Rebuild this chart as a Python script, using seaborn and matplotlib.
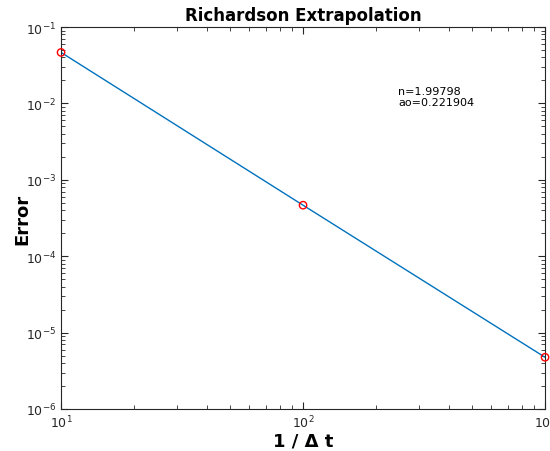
import matplotlib
matplotlib.use("Agg")
import matplotlib.pyplot as plt
import seaborn as sns
import pandas as pd
import numpy as np

inv_dt = [10, 100, 1000]
error = [0.0465, 4.65e-4, 4.75e-6]
fit_text = ["n=1.99798", "ao=0.221904"]

sns.set_style("ticks")
plt.rcParams['font.family'] = ['DejaVu Sans']

df = pd.DataFrame({"x": inv_dt, "y": error})

fig = plt.figure(figsize=(5.5, 4.52), dpi=100)
ax = fig.add_axes([0.111, 0.093, 0.880, 0.845])

sns.lineplot(data=df, x="x", y="y", ax=ax, color="#0072BD", linewidth=1.0)
sns.scatterplot(data=df, x="x", y="y", ax=ax, marker="o", s=28,
                facecolors="none", edgecolor="red", linewidth=1.0, zorder=5, clip_on=False)

ax.set_xscale("log")
ax.set_yscale("log")
ax.set_xlim(10, 1000)
ax.set_ylim(1e-6, 1e-1)

for s in ax.spines.values():
    s.set_visible(True)
    s.set_color("#262626")
    s.set_linewidth(0.8)

ax.tick_params(which="both", direction="in", top=True, right=True, colors="#262626", labelsize=9)
ax.tick_params(which="major", length=5)
ax.tick_params(which="minor", length=3)

ax.set_title("Richardson Extrapolation", fontsize=12, fontweight="bold", pad=5, color="black")
ax.set_xlabel("1 / \u0394 t", fontsize=13, fontweight="bold", labelpad=1, color="black")
ax.set_ylabel("Error", fontsize=13, fontweight="bold", color="black")
ax.yaxis.set_label_coords(-0.062, 0.5)

ax.text(0.696, 0.845, "\n".join(fit_text), transform=ax.transAxes, fontsize=8,
        va="top", ha="left", linespacing=1.1, color="black")

fig.savefig("out.png", dpi=100)
